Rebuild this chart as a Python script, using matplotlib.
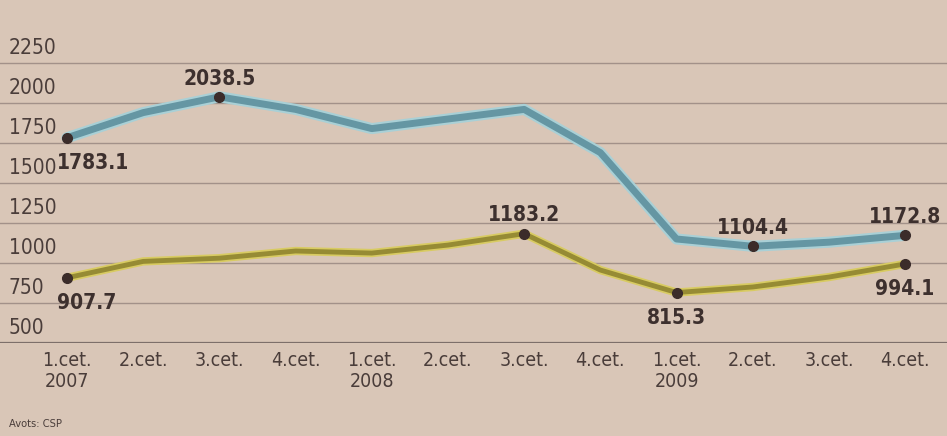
import matplotlib
matplotlib.use("Agg")
import matplotlib.pyplot as plt
import matplotlib.patheffects as pe
import matplotlib.transforms as mtransforms

# Data (quarters 2007-2009)
quarters = ["1.cet.\n2007", "2.cet.", "3.cet.", "4.cet.", "1.cet.\n2008", "2.cet.",
            "3.cet.", "4.cet.", "1.cet.\n2009", "2.cet.", "3.cet.", "4.cet."]
blue_vals = [1783.1, 1940, 2038.5, 1960, 1840, 1900, 1960, 1690, 1150, 1104.4, 1130, 1172.8]
yellow_vals = [907.7, 1010, 1030, 1075, 1062, 1112, 1183.2, 956, 815.3, 850, 912, 994.1]
y_ticks = [500, 750, 1000, 1250, 1500, 1750, 2000, 2250]

# labelled points: (index, text, side)
blue_labels = [(0, "1783.1", "below"), (2, "2038.5", "above"), (9, "1104.4", "above"), (11, "1172.8", "above")]
yellow_labels = [(0, "907.7", "below"), (6, "1183.2", "above"), (8, "815.3", "below"), (11, "994.1", "below")]

bg = "#d9c6b7"
text_col = "#4a3d3a"
plt.rcParams["font.family"] = ["DejaVu Sans"]
plt.rcParams["font.stretch"] = "condensed"

fig = plt.figure(figsize=(9.47, 4.36), dpi=100, facecolor=bg)
ax = fig.add_axes([0, 93 / 436, 1, 320 / 436], facecolor=bg)
x = list(range(len(quarters)))

ax.set_xlim(-0.88, 11.55)
ax.set_ylim(500, 2500)

# grid lines
for v in y_ticks:
    ax.axhline(v, color="#a29189", lw=1.0, zorder=1)
ax.axhline(500, color="#7d6f6a", lw=1.6, zorder=1)

# y tick labels sitting above their grid lines
trans = mtransforms.blended_transform_factory(ax.transAxes, ax.transData)
for v in y_ticks:
    ax.text(0.009, v + 30, str(v), transform=trans, ha="left", va="bottom",
            fontsize=15, color=text_col)

# lines
ax.plot(x, blue_vals, color="#6596a3", lw=5, solid_capstyle="round", zorder=3,
        path_effects=[pe.Stroke(linewidth=8, foreground="#a9d0d6"), pe.Normal()])
ax.plot(x, yellow_vals, color="#968b34", lw=3.5, solid_capstyle="round", zorder=3,
        path_effects=[pe.Stroke(linewidth=6, foreground="#d8cb62"), pe.Normal()])

for labels, vals in [(blue_labels, blue_vals), (yellow_labels, yellow_vals)]:
    for i, txt, side in labels:
        ax.plot(x[i], vals[i], "o", ms=7, color="#3b2c2a", zorder=4)
        if side == "above":
            off = (0, 6)
            va = "bottom"
        else:
            off = (0, -11)
            va = "top"
        ha = "center"
        if i == 0:
            ha = "left"
            off = (-7, off[1])
        ax.annotate(txt, (x[i], vals[i]), xytext=off, textcoords="offset points",
                    ha=ha, va=va, fontsize=15, fontweight="bold", color="#3d302e", zorder=5)

ax.set_xticks(x)
ax.set_xticklabels(quarters, fontsize=14, color=text_col, linespacing=1.1)
ax.tick_params(axis="x", length=0, pad=6)
ax.set_yticks([])
for s in ax.spines.values():
    s.set_visible(False)

fig.text(0.01, 0.015, "Avots: CSP", fontsize=8, color=text_col, ha="left", va="bottom")

fig.savefig("out.png", dpi=100, facecolor=bg)
